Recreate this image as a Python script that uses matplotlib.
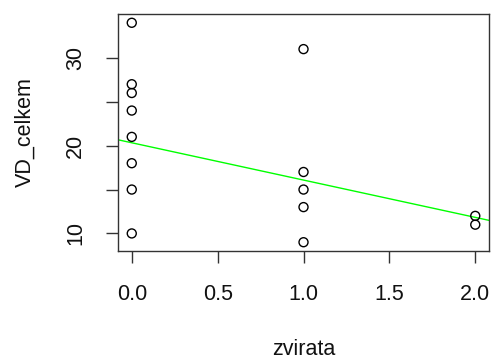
import matplotlib
matplotlib.use("Agg")
import matplotlib.pyplot as plt

plt.rcParams['font.family'] = ['Liberation Sans', 'DejaVu Sans']

# data
zvirata = [0, 0, 0, 0, 0, 0, 0, 0, 1, 1, 1, 1, 1, 2, 2]
vd_celkem = [34, 27, 26, 24, 21, 18, 15, 10, 31, 17, 15, 13, 9, 12, 11]

# fitted line (as drawn)
intercept = 20.33
slope = -4.25

x_ticks = [0.0, 0.5, 1.0, 1.5, 2.0]
x_labels = ["0.0", "0.5", "1.0", "1.5", "2.0"]
y_ticks = [10, 15, 20, 25, 30]
y_labels = ["10", "", "20", "", "30"]

fig = plt.figure(figsize=(4.93, 3.6), dpi=100)
ax = fig.add_axes([0.2394, 0.3028, 0.9919 - 0.2394, 0.9611 - 0.3028])

ax.scatter(zvirata, vd_celkem, s=42, facecolors="none", edgecolors="black",
           linewidths=1.0, zorder=3)

ax.set_xlim(-0.08, 2.08)
ax.set_ylim(8, 35)

xl = ax.get_xlim()
ax.plot(xl, [intercept + slope * xl[0], intercept + slope * xl[1]],
        color="#00ff00", lw=1.0, zorder=2)

ax.set_xticks(x_ticks)
ax.set_xticklabels(x_labels)
ax.set_yticks(y_ticks)
ax.set_yticklabels(y_labels, rotation=90, va="center")

ax.tick_params(axis="both", length=8.6, width=1, labelsize=15.5,
               color="#333333", labelcolor="#111111")
ax.tick_params(axis="x", pad=15)
ax.tick_params(axis="y", pad=14.5)
for s in ax.spines.values():
    s.set_color("#333333")
    s.set_linewidth(1)

ax.set_xlabel("zvirata", fontsize=15.5, labelpad=25, color="#111111")
ax.set_ylabel("VD_celkem", fontsize=15.5, labelpad=21, color="#111111")

fig.savefig("out.png", dpi=100)
